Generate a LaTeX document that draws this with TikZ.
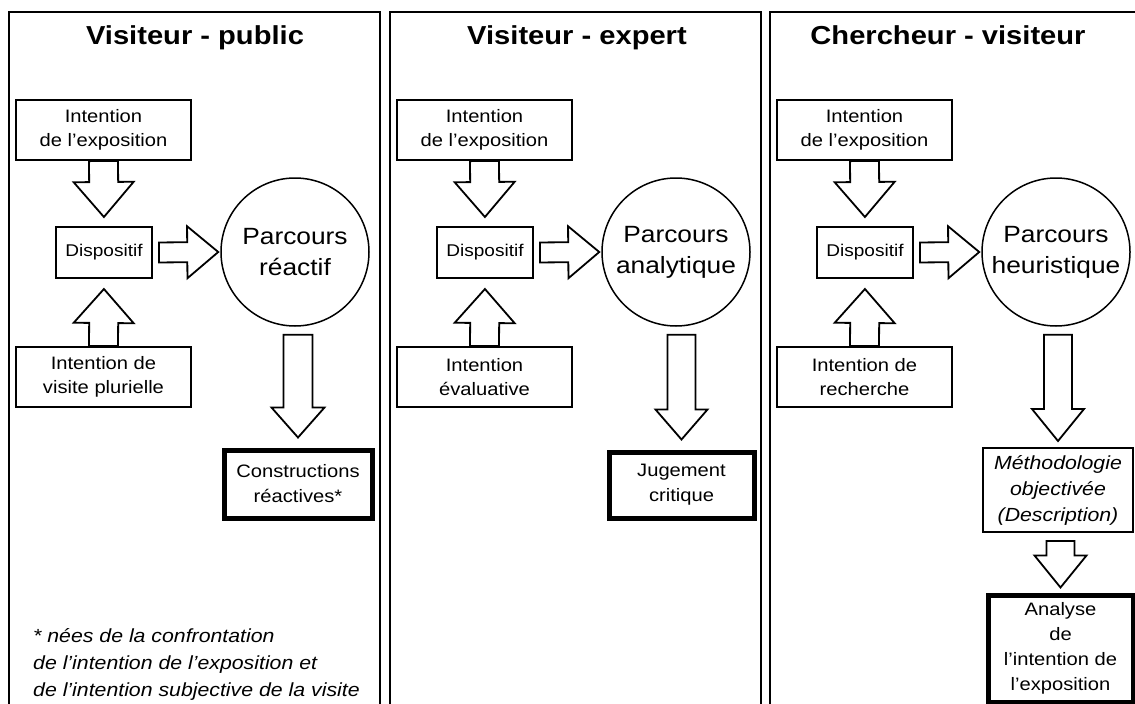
\documentclass[tikz,border=0pt]{standalone}
\usepackage{fontspec}
\setmainfont{Liberation Sans}[FakeStretch=1.12]
\usetikzlibrary{calc}

% hollow block arrow: from, to, gap at start, gap at tip, half shaft, half head, head length
\newcommand{\hollowarrow}[7]{%
  \coordinate (ha-s) at ($(#1)!#3!(#2)$);
  \coordinate (ha-t) at ($(#2)!#4!(#1)$);
  \coordinate (ha-h) at ($(ha-t)!#7!(ha-s)$);
  \draw[blockarrow] ($(ha-s)!#5!90:(ha-t)$) -- ($(ha-h)!#5!-90:(ha-s)$)
    -- ($(ha-h)!#6!-90:(ha-s)$) -- (ha-t) -- ($(ha-h)!#6!90:(ha-s)$)
    -- ($(ha-h)!#5!90:(ha-s)$) -- ($(ha-s)!#5!-90:(ha-t)$) -- cycle;
}

\begin{document}
\begin{tikzpicture}[x=1pt, y=-1pt,
    panel/.style = {draw, line width=2pt},
    title/.style = {anchor=base, font=\fontsize{26}{30}\selectfont\bfseries},
    intent/.style = {draw, line width=2pt, minimum width=175pt, minimum height=60pt, inner sep=0pt, align=center, font=\fontsize{18}{24}\selectfont},
    dispo/.style = {draw, line width=2pt, minimum width=96pt, minimum height=51pt, inner sep=0pt, font=\fontsize{17}{20}\selectfont},
    parcours/.style = {circle, draw, line width=1.5pt, minimum size=148pt, inner sep=0pt, align=center, font=\fontsize{23.5}{31}\selectfont},
    result/.style = {draw, line width=5pt, inner sep=0pt, align=center, font=\fontsize{18}{25}\selectfont},
    method/.style = {draw, line width=2pt, inner sep=0pt, align=center, font=\fontsize{19}{26}\selectfont\itshape},
    blockarrow/.style = {draw, fill=white, line width=1.8pt, line join=miter}]
  \useasboundingbox (0,0) rectangle (1135,704);
  \clip (0,0) rectangle (1135,704);

  \foreach \p/\dx/\tx/\name/\low/\parc in {
      1/0/195/{Visiteur - public}/{Intention de\\visite plurielle}/{Parcours\\réactif},
      2/381/577/{Visiteur - expert}/{Intention\\évaluative}/{Parcours\\analytique},
      3/761/948/{Chercheur - visiteur}/{Intention de\\recherche}/{Parcours\\heuristique}} {
    \draw[panel] (\dx+9,12) rectangle (\dx+380,730);
    \node[title] (title\p) at (\tx,44) {\name};
    \node[intent] (int\p) at (\dx+103.5,130) {Intention\\de l’exposition};
    \node[dispo] (disp\p) at (\dx+104,252.5) {Dispositif};
    \node[intent] (low\p) at (\dx+103.5,377) {\low};
    \node[parcours] (parc\p) at (\dx+295,252) {\parc};
    \hollowarrow{int\p.south}{disp\p.north}{0pt}{9pt}{14.5pt}{30pt}{35pt}
    \hollowarrow{low\p.north}{disp\p.south}{0pt}{10pt}{14.5pt}{30pt}{34pt}
    \hollowarrow{disp\p.east}{parc\p.west}{6pt}{2pt}{10pt}{26pt}{31pt}
  }

  \node[result, minimum width=148pt, minimum height=68pt] (out1) at (298,484) {Constructions\\réactives*};
  \node[result, minimum width=145pt, minimum height=66pt] (out2) at (681.5,485) {Jugement\\critique};
  \node[method, minimum width=150pt, minimum height=84pt] (meth3) at (1058,490) {Méthodologie\\objectivée\\(Description)};
  \node[result, minimum width=145pt, minimum height=107pt] (out3) at (1060.5,648.5) {Analyse\\de\\l’intention de\\l’exposition};

  \hollowarrow{out1.north |- parc1.south}{out1.north}{8pt}{10pt}{14.5pt}{26.5pt}{30pt}
  \hollowarrow{out2.north |- parc2.south}{out2.north}{8pt}{10pt}{14pt}{26pt}{30pt}
  \hollowarrow{meth3.north |- parc3.south}{meth3.north}{8pt}{6pt}{14pt}{26pt}{32pt}
  \hollowarrow{out3.north |- meth3.south}{out3.north}{8pt}{5pt}{14pt}{26pt}{32pt}

  % note of the first panel
  \node[anchor=base west, align=left, inner sep=0pt, font=\fontsize{19}{27}\selectfont\itshape] (note) at (33,696)
    {* nées de la confrontation\\de l’intention de l’exposition et\\de l’intention subjective de la visite};
\end{tikzpicture}
\end{document}
